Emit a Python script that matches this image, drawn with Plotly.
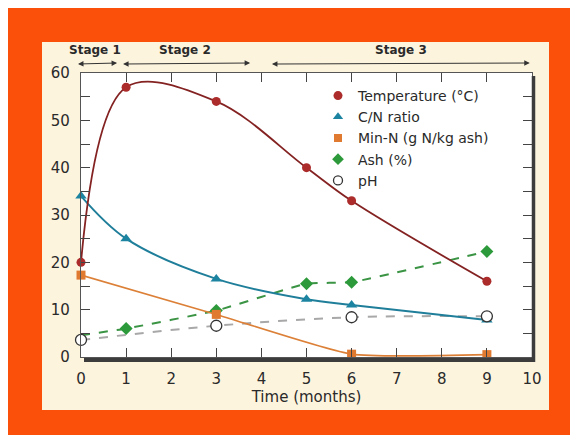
import plotly.graph_objects as go

# ---- data ----
temp_x = [0, 1, 3, 5, 6, 9]
temp_y = [20, 57, 54, 40, 33, 16]

cn_x = [0, 1, 3, 5, 6, 9]
cn_y = [34, 25, 16.5, 12.2, 11, 7.8]

minn_x = [0, 3, 6, 9]
minn_y = [17.3, 9, 0.6, 0.5]

ash_x = [0, 1, 3, 5, 6, 9]
ash_y = [4.6, 6, 9.8, 15.5, 15.8, 22.3]

ph_x = [0, 3, 6, 9]
ph_y = [3.6, 6.6, 8.4, 8.6]

stage_names = ["Stage 1", "Stage 2", "Stage 3"]
stage_starts = [-0.1, 0.9, 4.2]
stage_ends = [0.8, 3.75, 9.95]
stage_label_x = [0.3, 2.3, 7.1]

x_ticks = list(range(0, 11))
y_ticks = list(range(0, 61, 5))
y_ticktext = [str(v) if v % 10 == 0 else "" for v in y_ticks]

FONT = "DejaVu Sans"
TXT = "#2a2a2a"
CREAM = "#fdf4de"

fig = go.Figure()

# ---- data traces ----
fig.add_trace(go.Scatter(x=ph_x, y=ph_y, mode="lines", line=dict(color="#a8a8a8", width=2, dash="dash", shape="spline"),
                         showlegend=False, cliponaxis=False))
fig.add_trace(go.Scatter(x=ash_x, y=ash_y, mode="lines",
                         line=dict(color="#3a9444", width=2, dash="dash", shape="spline", smoothing=0.3),
                         showlegend=False, cliponaxis=False))
fig.add_trace(go.Scatter(x=ash_x[1:], y=ash_y[1:], mode="markers",
                         marker=dict(symbol="diamond", size=10, color="#2c9a3a", opacity=1, line=dict(width=0)),
                         showlegend=False, cliponaxis=False))
fig.add_trace(go.Scatter(x=minn_x, y=minn_y, mode="lines+markers",
                         line=dict(color="#dc8038", width=1.6, shape="spline", smoothing=0.5),
                         marker=dict(symbol="square", size=9, color="#e07a30"), showlegend=False, cliponaxis=False))
fig.add_trace(go.Scatter(x=cn_x, y=cn_y, mode="lines+markers",
                         line=dict(color="#1f7e9a", width=2, shape="spline", smoothing=1.0),
                         marker=dict(symbol="triangle-up", size=10, color="#1c84a0"), showlegend=False, cliponaxis=False))
fig.add_trace(go.Scatter(x=temp_x, y=temp_y, mode="lines+markers",
                         line=dict(color="#842222", width=1.8, shape="spline", smoothing=1.0),
                         marker=dict(symbol="circle", size=9, color="#ac2b2b"), showlegend=False, cliponaxis=False))
fig.add_trace(go.Scatter(x=ph_x, y=ph_y, mode="markers",
                         marker=dict(symbol="circle", size=11, color="white", line=dict(color="#333333", width=1.3)),
                         showlegend=False, cliponaxis=False))

# ---- legend-only traces ----
leg = [
    ("Temperature (°C)", dict(symbol="circle", size=9, color="#ac2b2b")),
    ("C/N ratio", dict(symbol="triangle-up", size=9, color="#1c84a0")),
    ("Min-N (g N/kg ash)", dict(symbol="square", size=8, color="#e07a30")),
    ("Ash (%)", dict(symbol="diamond", size=9, color="#2c9a3a")),
    ("pH", dict(symbol="circle", size=9, color="white", line=dict(color="#333333", width=1.3))),
]
for name, mk in leg:
    fig.add_trace(go.Scatter(x=[None], y=[None], mode="markers", name=name, marker=mk))

# ---- geometry (page has an 8px body margin, so figure origin = page (8, 8)) ----
OFF = 8
W, H = 578 - OFF, 435 - OFF
L, R, T, B = 81 - OFF, 578 - 532, 73 - OFF, 435 - 357
PW, PH = W - L - R, H - T - B


def px_x(p):
    return (p - OFF - L) / PW


def px_y(p):
    return (H + OFF - B - p) / PH


def cream(x0, x1, y0, y1):
    return dict(type="rect", xref="paper", yref="paper", x0=x0, x1=x1, y0=y0, y1=y1,
                fillcolor=CREAM, line=dict(width=0), layer="below")


shapes = [
    # cream panel as a frame around the white plot area
    cream(px_x(42), px_x(549), 1, px_y(42)),
    cream(px_x(42), px_x(549), px_y(410), 0),
    cream(px_x(42), 0, 0, 1),
    cream(1, px_x(549), 0, 1),
    # thick shadow lines (bottom, right)
    dict(type="line", xref="paper", yref="paper", x0=px_x(84), x1=px_x(535), y0=px_y(360), y1=px_y(360),
         line=dict(color="#3c3c3c", width=4), layer="above"),
    dict(type="line", xref="paper", yref="paper", x0=px_x(533.5), x1=px_x(533.5), y0=px_y(362), y1=px_y(76),
         line=dict(color="#3c3c3c", width=3.5), layer="above"),
]

annotations = []
for name, s, e, lx in zip(stage_names, stage_starts, stage_ends, stage_label_x):
    annotations.append(dict(x=lx, y=px_y(50), xref="x", yref="paper", yanchor="middle", text="<b>" + name + "</b>",
                            showarrow=False, font=dict(family=FONT, size=12, color=TXT)))
    annotations.append(dict(x=e, y=px_y(63), xref="x", yref="paper", ax=s, ay=px_y(63), axref="x", ayref="y domain",
                            text="", showarrow=True, arrowside="end+start", arrowhead=2, arrowsize=1.1,
                            arrowwidth=1, arrowcolor="#333333", standoff=0, startstandoff=0))

fig.update_layout(
    width=W, height=H,
    margin=dict(l=L, r=R, t=T, b=B, pad=0),
    paper_bgcolor="#fb5009",
    plot_bgcolor="white",
    font=dict(family=FONT, size=14, color=TXT),
    shapes=shapes,
    annotations=annotations,
    showlegend=True,
    legend=dict(x=px_x(318), y=px_y(80), xanchor="left", yanchor="top", bgcolor="rgba(0,0,0,0)",
                font=dict(family=FONT, size=14, color=TXT), tracegroupgap=0, itemwidth=30),
    xaxis=dict(range=[0, 10], tickvals=x_ticks, ticks="inside", ticklen=9, tickcolor="#444", tickwidth=1.3,
               showline=True, linecolor="#555", linewidth=1.3, mirror="ticks", showgrid=False, zeroline=False,
               ticklabelstandoff=8, tickfont=dict(size=15),
               title=dict(text="Time (months)", font=dict(size=15), standoff=4)),
    yaxis=dict(range=[0, 60], tickvals=y_ticks, ticktext=y_ticktext, ticks="inside", ticklen=9, tickcolor="#444",
               tickwidth=1.3, showline=True, linecolor="#555", linewidth=1.3, mirror="ticks", showgrid=False,
               zeroline=False, ticklabelstandoff=7, tickfont=dict(size=15)),
)

fig.write_html("out.html")
